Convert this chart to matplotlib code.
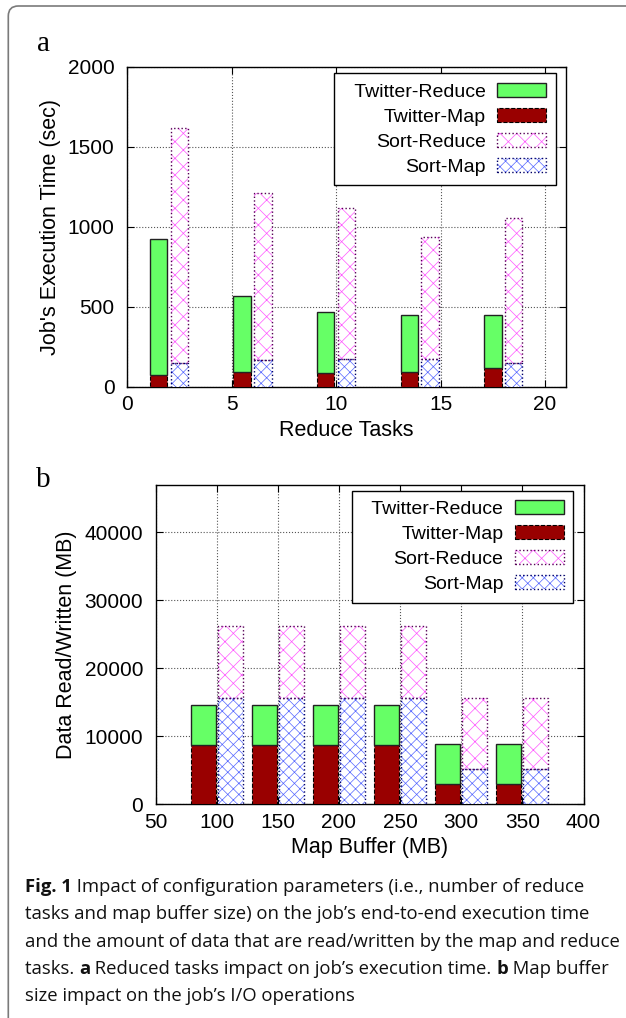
import matplotlib
matplotlib.use("Agg")
import matplotlib.pyplot as plt
import numpy as np
from matplotlib.patches import Patch, FancyBboxPatch

# ---------------- data ----------------
reduce_tasks = [2, 6, 10, 14, 18]
twitter_map_a = [75, 92, 85, 92, 117]
twitter_reduce_a = [850, 475, 386, 356, 335]
sort_map_a = [152, 169, 173, 177, 148]
sort_reduce_a = [1465, 1041, 946, 760, 906]

buffer_sizes = [100, 150, 200, 250, 300, 350]
twitter_map_b = [8700, 8700, 8700, 8700, 2950, 2950]
twitter_reduce_b = [5900, 5900, 5900, 5900, 5870, 5870]
sort_map_b = [15700, 15700, 15700, 15700, 5200, 5200]
sort_reduce_b = [10500, 10500, 10500, 10500, 10400, 10400]

series_labels = ["Twitter-Reduce", "Twitter-Map", "Sort-Reduce", "Sort-Map"]
xticks_a = [0, 5, 10, 15, 20]
yticks_a = [0, 500, 1000, 1500, 2000]
xticks_b = [50, 100, 150, 200, 250, 300, 350, 400]
yticks_b = [0, 10000, 20000, 30000, 40000]
# caption: list of lines, each a list of (text, bold)
caption_lines = [
    [("Fig. 1", True), (" Impact of configuration parameters (i.e., number of reduce", False)],
    [("tasks and map buffer size) on the job\u2019s end-to-end execution time", False)],
    [("and the amount of data that are read/written by the map and reduce", False)],
    [("tasks. ", False), ("a", True), (" Reduced tasks impact on job\u2019s execution time. ", False),
     ("b", True), (" Map buffer", False)],
    [("size impact on the job\u2019s I/O operations", False)],
]

# ---------------- style ----------------
plt.rcParams['font.family'] = ['Liberation Sans', 'DejaVu Sans']
plt.rcParams['hatch.linewidth'] = 0.5

GREEN = '#66ff66'
DRED = '#990000'
MAG = '#ff55ff'
BLUE = '#5566ff'

W, H = 626, 1018
fig = plt.figure(figsize=(W / 100, H / 100), dpi=100)
fig.patch.set_facecolor('white')


def frac_axes(left, top, right, bottom):
    return fig.add_axes([left / W, 1 - bottom / H, (right - left) / W, (bottom - top) / H])


def draw_panel(ax, xs, tmap, tred, smap, sred, off, width):
    xs = np.asarray(xs, dtype=float)
    xt = xs - off
    xsr = xs + off
    ax.bar(xt, tmap, width, color=DRED, edgecolor='k', linestyle='--', linewidth=0.8, zorder=3)
    ax.bar(xt, tred, width, bottom=tmap, color=GREEN, edgecolor='#222222', linewidth=1.0, zorder=3)
    ax.bar(xsr, smap, width, color='white', edgecolor=BLUE, hatch='xxx', linewidth=0, zorder=3)
    ax.bar(xsr, smap, width, fill=False, edgecolor='#000066', linestyle=':', linewidth=1.0, zorder=4)
    ax.bar(xsr, sred, width, bottom=smap, color='white', edgecolor=MAG, hatch='xx', linewidth=0, zorder=3)
    ax.bar(xsr, sred, width, bottom=smap, fill=False, edgecolor='#550055', linestyle=':', linewidth=1.0, zorder=4)


def style_axes(ax):
    ax.grid(True, color='#555555', linestyle=':', linewidth=0.8, zorder=0)
    ax.set_axisbelow(True)
    ax.tick_params(direction='in', top=True, right=True, length=5, width=0.8,
                   labelsize=15)
    ax.tick_params(axis='x', pad=6)
    ax.tick_params(axis='y', pad=9)
    for s in ax.spines.values():
        s.set_linewidth(1.0)


def legend(ax, anchor):
    handles = [
        Patch(facecolor=GREEN, edgecolor='#222222', linewidth=1.0),
        Patch(facecolor=DRED, edgecolor='k', linestyle='--', linewidth=0.8),
        (Patch(facecolor='white', edgecolor=MAG, hatch='xx', linewidth=0),
         Patch(fill=False, edgecolor='#550055', linestyle=':', linewidth=1.0)),
        (Patch(facecolor='white', edgecolor=BLUE, hatch='xxx', linewidth=0),
         Patch(fill=False, edgecolor='#000066', linestyle=':', linewidth=1.0)),
    ]
    labels = ["  " + series_labels[0]] + series_labels[1:]
    leg = ax.legend(handles, labels, loc='upper right', bbox_to_anchor=anchor,
                    markerfirst=False, fontsize=14, frameon=True, fancybox=False,
                    edgecolor='k', framealpha=1, handlelength=2.5, handleheight=0.7,
                    handletextpad=0.6, labelspacing=0.38, borderpad=0.5,
                    borderaxespad=0)
    leg.get_frame().set_linewidth(1.0)
    leg.set_zorder(10)


# ---------------- panel a ----------------
ax1 = frac_axes(127, 67, 566, 387)
draw_panel(ax1, reduce_tasks, twitter_map_a, twitter_reduce_a, sort_map_a, sort_reduce_a, 0.5, 0.83)
ax1.set_xlim(0, 21)
ax1.set_ylim(0, 2000)
ax1.set_xticks(xticks_a)
ax1.set_yticks(yticks_a)
style_axes(ax1)
ax1.set_xlabel("Reduce Tasks", fontsize=15.5, labelpad=4)
ax1.set_ylabel("Job's Execution Time (sec)", fontsize=15.5, labelpad=5)
legend(ax1, ((555.7 - 127) / 439, (387 - 73.3) / 320))

# ---------------- panel b ----------------
ax2 = frac_axes(155.5, 484.7, 583.5, 804.3)
draw_panel(ax2, buffer_sizes, twitter_map_b, twitter_reduce_b, sort_map_b, sort_reduce_b, 11, 20.5)
ax2.set_xlim(50, 400)
ax2.set_ylim(0, 47000)
ax2.set_xticks(xticks_b)
ax2.set_yticks(yticks_b)
style_axes(ax2)
ax2.set_xlabel("Map Buffer (MB)", fontsize=15.5, labelpad=4)
ax2.set_ylabel("Data Read/Written (MB)", fontsize=15.5, labelpad=5)
legend(ax2, ((573.3 - 155.5) / 428, (804.3 - 490.7) / 319.6))

# panel letters
fig.text(43 / W, 1 - 44 / H, "a", fontsize=21, family=['Liberation Serif'], ha='center', va='center')
fig.text(43 / W, 1 - 480 / H, "b", fontsize=21, family=['Liberation Serif'], ha='center', va='center')

# ---------------- caption ----------------
renderer = fig.canvas.get_renderer()
y0 = 892
for i, segs in enumerate(caption_lines):
    x = 25.0
    for s, bold in segs:
        t = fig.text(x / W, 1 - (y0 + i * 27.3) / H, s, fontsize=13.3,
                     family=['Open Sans', 'DejaVu Sans'],
                     fontweight='bold' if bold else 'normal',
                     ha='left', va='baseline', color='#111111')
        x += t.get_window_extent(renderer).width

# ---------------- outer frame ----------------
frame = FancyBboxPatch((0.083, -1.0), 10.0, 11.12,
                       boxstyle="round,pad=0,rounding_size=0.1",
                       transform=fig.dpi_scale_trans, fill=False,
                       edgecolor='#7a7a7a', linewidth=1.2, clip_on=False)
fig.patches.append(frame)

fig.savefig("out.png", dpi=100, facecolor='white')
